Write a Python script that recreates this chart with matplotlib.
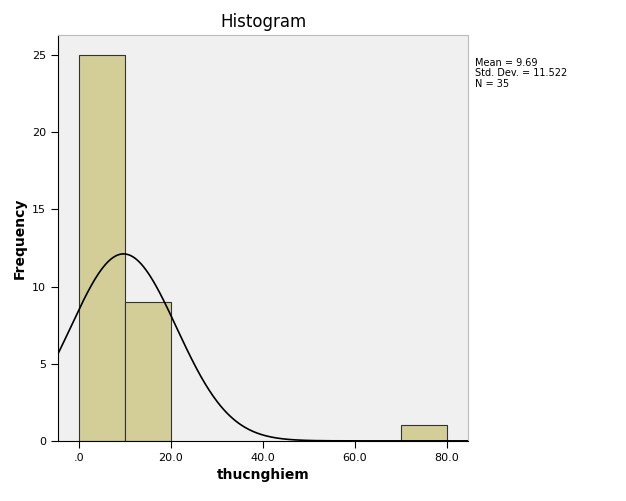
import numpy as np
import matplotlib
matplotlib.use("Agg")
import matplotlib.pyplot as plt

bin_edges = [0, 10, 20, 30, 40, 50, 60, 70, 80]
counts = [25, 9, 0, 0, 0, 0, 0, 1]
mean, sd, n = 9.69, 11.522, 35
xticks = [0, 20, 40, 60, 80]
xticklabels = [".0", "20.0", "40.0", "60.0", "80.0"]
yticks = [0, 5, 10, 15, 20, 25]

fig = plt.figure(figsize=(6.26, 5.01), dpi=100)
ax = fig.add_axes([0.0927, 0.12, 0.655, 0.81])
ax.set_facecolor("#F0F0F0")
for i, c in enumerate(counts):
    if c > 0:
        ax.bar(bin_edges[i], c, width=bin_edges[i+1]-bin_edges[i], align="edge",
               color="#D3CE97", edgecolor="#333333", linewidth=0.8, zorder=2)
xs = np.linspace(-4.55, 84.6, 400)
ys = n * 10 * np.exp(-0.5 * ((xs - mean) / sd) ** 2) / (sd * np.sqrt(2 * np.pi))
ax.plot(xs, ys, color="black", linewidth=1.2, zorder=3)
ax.set_xlim(-4.55, 84.6)
ax.set_ylim(0, 26.3)
ax.set_xticks(xticks)
ax.set_xticklabels(xticklabels)
ax.set_yticks(yticks)
ax.tick_params(labelsize=8, length=5)
for s in ["top", "right"]:
    ax.spines[s].set_color("#BBBBBB")
ax.set_title("Histogram", fontsize=12)
ax.set_xlabel("thucnghiem", fontsize=10, fontweight="bold")
ax.set_ylabel("Frequency", fontsize=10, fontweight="bold")
fig.text(0.758, 0.885, f"Mean = {mean}\nStd. Dev. = {sd}\nN = {n}", fontsize=7,
         va="top", linespacing=1.1)
fig.savefig("out.png", dpi=100)
